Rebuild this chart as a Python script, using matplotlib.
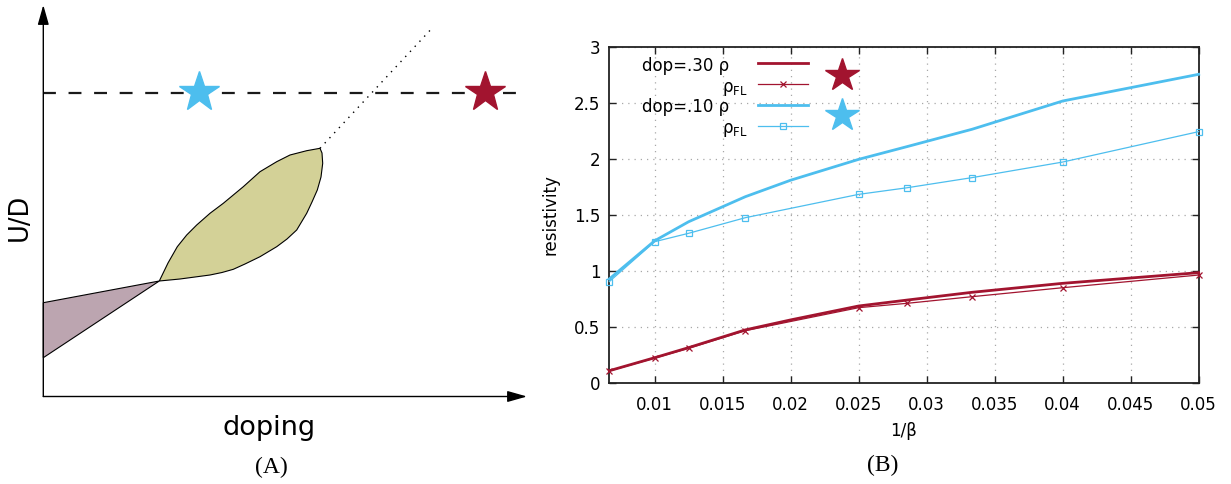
import matplotlib
matplotlib.use('Agg')
import matplotlib.pyplot as plt
from matplotlib.patches import Polygon

# ---------------- Panel (B) data ----------------
inv_beta_rho = [1/150, 0.01, 0.0125, 1/60, 0.02, 0.025, 1/35, 1/30, 0.04, 0.05]
inv_beta_fl = [1/150, 0.01, 0.0125, 1/60, 0.025, 1/35, 1/30, 0.04, 0.05]
rho_dop30 = [0.112, 0.228, 0.318, 0.476, 0.565, 0.689, 0.742, 0.811, 0.891, 0.986]
rho_fl_dop30 = [0.110, 0.224, 0.312, 0.469, 0.674, 0.713, 0.772, 0.852, 0.965]
rho_dop10 = [0.930, 1.270, 1.440, 1.663, 1.810, 1.996, 2.110, 2.264, 2.516, 2.754]
rho_fl_dop10 = [0.906, 1.262, 1.337, 1.476, 1.684, 1.743, 1.833, 1.972, 2.243]
xticks = [0.01, 0.015, 0.02, 0.025, 0.03, 0.035, 0.04, 0.045, 0.05]
xtick_labels = ["0.01", "0.015", "0.02", "0.025", "0.03", "0.035", "0.04", "0.045", "0.05"]
yticks = [0, 0.5, 1, 1.5, 2, 2.5, 3]
ytick_labels = ["0", "0.5", "1", "1.5", "2", "2.5", "3"]
legend_labels = ["dop=.30 ρ", "$\\mathrm{ρ}_\\mathrm{FL}$", "dop=.10 ρ", "$\\mathrm{ρ}_\\mathrm{FL}$"]

# ---------------- Panel (A) schematic shapes (sketch coordinates) ----------------
purple_x = [43.3, 159.3, 43.3]
purple_y = [302.7, 281.0, 357.7]
blob_x = [159.3, 168.0, 177.3, 186.7, 196.7, 210.0, 223.3, 243.3, 260.0, 276.7, 290.0, 306.7, 320.0,
          322.0, 322.7, 321.0, 317.3, 312.0, 306.7, 296.7, 287.0, 276.7, 260.0, 245.0, 233.3, 222.0,
          210.0, 195.0, 180.0]
blob_y = [281.0, 263.0, 246.7, 235.0, 225.0, 213.3, 203.3, 186.7, 171.7, 161.7, 155.0, 150.7, 148.3,
          153.0, 163.3, 177.0, 190.0, 202.0, 213.3, 230.0, 239.0, 246.7, 256.7, 264.0, 269.3, 272.5,
          275.0, 277.0, 279.0]
dotted_x = [320.0, 431.0]
dotted_y = [148.3, 29.3]
dashed_level = 93.3
stars_x = [199.3, 484.5]
stars_y = [91.5, 91.5]

RED = '#A2142F'
BLUE = '#4DBEEE'

fig = plt.figure(figsize=(12.31, 4.84), dpi=100)

# ================= Panel A =================
axA = fig.add_axes([0, 0, 540 / 1231, 1])
axA.set_xlim(0, 540)
axA.set_ylim(484, 0)
axA.axis('off')

axA.add_patch(Polygon(list(zip(purple_x, purple_y)), closed=True, facecolor='#bca5b0',
                      edgecolor='black', lw=0.8, zorder=2))
axA.add_patch(Polygon(list(zip(blob_x, blob_y)), closed=True, facecolor='#d3d197',
                      edgecolor='black', lw=0.8, zorder=2))
axA.plot(dotted_x, dotted_y, color='black', lw=1.0, linestyle=(0, (1, 4)), zorder=2)
axA.plot([43.3, 517], [dashed_level, dashed_level], color='#1a1a1a', lw=1.6,
         linestyle=(0, (5.8, 5.7)), zorder=2)
axA.plot(stars_x[:1], stars_y[:1], marker='*', ms=30, color=BLUE, mec=BLUE, linestyle='none', zorder=3)
axA.plot(stars_x[1:], stars_y[1:], marker='*', ms=30, color=RED, mec=RED, linestyle='none', zorder=3)

arrow_kw = dict(arrowstyle='-|>,head_length=0.6,head_width=0.17', lw=1.0, color='black',
                shrinkA=0, shrinkB=0, mutation_scale=20)
axA.annotate('', xy=(43.3, 5), xytext=(43.3, 396.5), arrowprops=arrow_kw)
axA.annotate('', xy=(527, 396.5), xytext=(43.3, 396.5), arrowprops=arrow_kw)

axA.text(19.5, 217, 'U/D', rotation=90, ha='center', va='center', fontsize=18.5)
axA.text(269.5, 428, 'doping', ha='center', va='center', fontsize=19.5)
fig.text(271 / 1231, 1 - 467 / 484, '(A)', ha='center', va='center', fontsize=17,
         family='Liberation Serif')
fig.text(883 / 1231, 1 - 465 / 484, '(B)', ha='center', va='center', fontsize=17,
         family='Liberation Serif')

# ================= Panel B =================
L, R, T, B = 609.3, 1198.7, 46.7, 383.3
axB = fig.add_axes([L / 1231, (484 - B) / 484, (R - L) / 1231, (B - T) / 484])
axB.set_xlim(1/150, 0.05)
axB.set_ylim(0, 3)

axB.plot(inv_beta_rho, rho_dop30, color=RED, lw=2.0, clip_on=False, zorder=3)
axB.plot(inv_beta_fl, rho_fl_dop30, color=RED, lw=0.9, marker='x', ms=5, mew=0.9,
         clip_on=False, zorder=3)
axB.plot(inv_beta_rho, rho_dop10, color=BLUE, lw=2.0, clip_on=False, zorder=3)
axB.plot(inv_beta_fl, rho_fl_dop10, color=BLUE, lw=0.9, marker='s', ms=5, mew=0.9,
         mfc='none', clip_on=False, zorder=3)

axB.set_xticks(xticks, labels=xtick_labels)
axB.set_yticks(yticks, labels=ytick_labels)
axB.tick_params(axis='both', direction='in', top=True, right=True, length=4.8, width=1.0,
                labelsize=12, color='#222222')
axB.tick_params(axis='x', pad=9)
axB.tick_params(axis='y', pad=6.5)
for s in axB.spines.values():
    s.set_linewidth(1.3)
    s.set_color('#222222')
axB.grid(True, color='#a8a8a8', lw=0.9, linestyle=(0, (1, 4)))
axB.set_axisbelow(True)

axB.set_ylabel('resistivity', fontsize=12, va='center', ha='center')
axB.yaxis.set_label_coords(-0.1006, 0.5)
axB.set_xlabel('1/β', fontsize=12, va='center', ha='center')
axB.xaxis.set_label_coords(0.5, -0.1417)

# legend (gnuplot-style key: text right, sample to the right)
row_line_y = [0.9508, 0.8890, 0.8272, 0.7654]
row_base_y = [0.9287, 0.8669, 0.8051, 0.7433]
styles = [dict(color=RED, lw=2.0), dict(color=RED, lw=0.9),
          dict(color=BLUE, lw=2.0), dict(color=BLUE, lw=0.9)]
markers = [None, dict(marker='x', ms=5, mew=0.9, color=RED), None,
           dict(marker='s', ms=5, mew=0.9, mfc='none', color=BLUE)]
for i, lab in enumerate(legend_labels):
    if i % 2 == 0:
        axB.text(0.2036, row_base_y[i], lab, transform=axB.transAxes, ha='right',
                 va='baseline', fontsize=12)
    else:
        axB.text(0.1907, row_base_y[i], lab, transform=axB.transAxes, ha='left',
                 va='baseline', fontsize=12)
    axB.plot([0.2523, 0.3371], [row_line_y[i], row_line_y[i]], transform=axB.transAxes,
             clip_on=False, **styles[i])
    if markers[i] is not None:
        axB.plot([0.2947], [row_line_y[i]], transform=axB.transAxes, linestyle='none',
                 clip_on=False, **markers[i])

axB.plot([0.394], [0.915], transform=axB.transAxes, marker='*', ms=25, color=RED, mec=RED,
         linestyle='none', clip_on=False)
axB.plot([0.394], [0.796], transform=axB.transAxes, marker='*', ms=25, color=BLUE, mec=BLUE,
         linestyle='none', clip_on=False)

fig.savefig('out.png', dpi=100)
